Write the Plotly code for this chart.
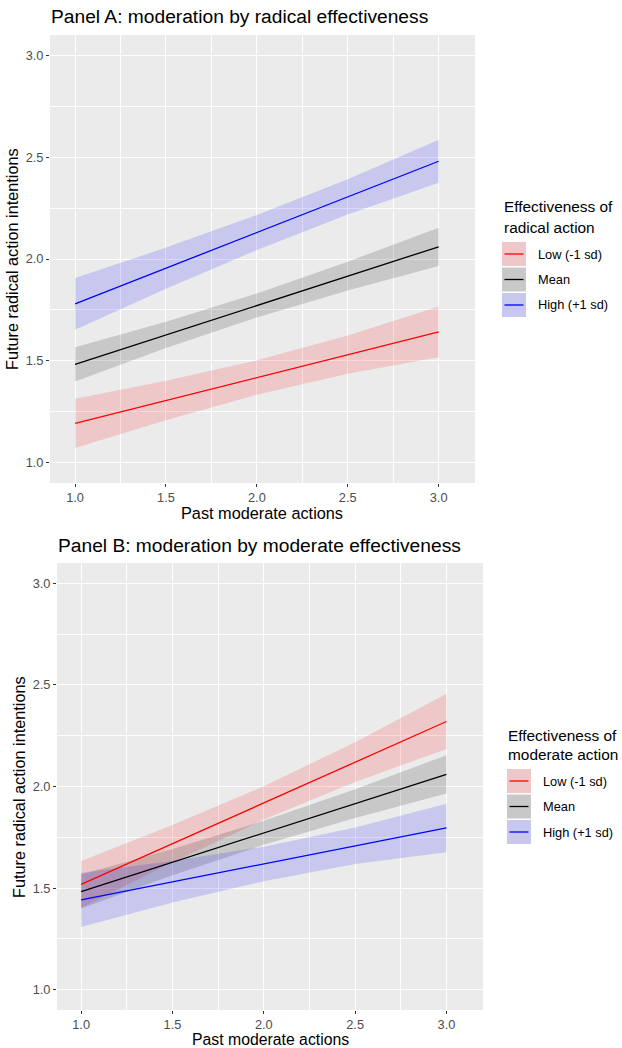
import plotly.graph_objects as go

# ---------------- data ----------------
x_vals = [1.0, 1.5, 2.0, 2.5, 3.0]
group_labels = ["Low (-1 sd)", "Mean", "High (+1 sd)"]

# Panel A: moderation by radical effectiveness
a_low_fit = [1.193, 1.305, 1.418, 1.530, 1.642]
a_low_lo = [1.072, 1.208, 1.333, 1.436, 1.517]
a_low_hi = [1.314, 1.402, 1.503, 1.624, 1.767]
a_mean_fit = [1.483, 1.627, 1.772, 1.916, 2.060]
a_mean_lo = [1.399, 1.563, 1.713, 1.845, 1.966]
a_mean_hi = [1.567, 1.692, 1.831, 1.987, 2.154]
a_high_fit = [1.780, 1.955, 2.130, 2.305, 2.480]
a_high_lo = [1.653, 1.854, 2.044, 2.218, 2.375]
a_high_hi = [1.907, 2.056, 2.216, 2.392, 2.585]

# Panel B: moderation by moderate effectiveness
b_low_fit = [1.518, 1.719, 1.919, 2.120, 2.320]
b_low_lo = [1.403, 1.627, 1.837, 2.022, 2.184]
b_low_hi = [1.633, 1.811, 2.001, 2.218, 2.456]
b_mean_fit = [1.483, 1.627, 1.772, 1.916, 2.060]
b_mean_lo = [1.399, 1.563, 1.713, 1.845, 1.966]
b_mean_hi = [1.567, 1.692, 1.831, 1.987, 2.154]
b_high_fit = [1.442, 1.531, 1.619, 1.708, 1.796]
b_high_lo = [1.309, 1.429, 1.534, 1.618, 1.677]
b_high_hi = [1.575, 1.633, 1.704, 1.798, 1.915]

x_ticks = [1.0, 1.5, 2.0, 2.5, 3.0]
y_ticks = [1.0, 1.5, 2.0, 2.5, 3.0]

# ---------------- styles ----------------
W, H = 622, 1048
FONT = "Liberation Sans, Arial, Helvetica, sans-serif"
line_colors = ["#FF0000", "#000000", "#0000FF"]
band_colors = ["rgba(255,0,0,0.15)", "rgba(0,0,0,0.15)", "rgba(0,0,255,0.15)"]
key_fill = ["#EEC8C8", "#C8C8C8", "#C8C8EE"]


def px(x):
    return x / W


def py(y):
    return 1 - y / H


fig = go.Figure()

panels = [
    ("x", "y", [(a_low_fit, a_low_lo, a_low_hi), (a_mean_fit, a_mean_lo, a_mean_hi),
                (a_high_fit, a_high_lo, a_high_hi)]),
    ("x2", "y2", [(b_low_fit, b_low_lo, b_low_hi), (b_mean_fit, b_mean_lo, b_mean_hi),
                  (b_high_fit, b_high_lo, b_high_hi)]),
]

for xa, ya, series in panels:
    for i, (fit, lo, hi) in enumerate(series):
        fig.add_trace(go.Scatter(x=x_vals + x_vals[::-1], y=hi + lo[::-1], fill="toself",
                                 fillcolor=band_colors[i], line=dict(width=0),
                                 mode="lines", hoverinfo="skip", showlegend=False,
                                 xaxis=xa, yaxis=ya))
    for i, (fit, lo, hi) in enumerate(series):
        fig.add_trace(go.Scatter(x=x_vals, y=fit, mode="lines",
                                 line=dict(color=line_colors[i], width=1.3),
                                 name=group_labels[i], showlegend=False,
                                 xaxis=xa, yaxis=ya))

axis_common = dict(
    showgrid=True, gridcolor="white", gridwidth=1.1, zeroline=False,
    ticks="outside", ticklen=3, tickcolor="#333333", tickwidth=1,
    tickfont=dict(family=FONT, size=12.8, color="#4D4D4D"),
    minor=dict(dtick=0.25, tick0=0.75, showgrid=True, gridcolor="white", gridwidth=0.5,
               ticks=""),
    showline=False, fixedrange=True, automargin=False,
)

xdomA = [px(50), px(475)]
ydomA = [py(483), py(35)]
xdomB = [px(57), px(483)]
ydomB = [py(1010), py(563)]

fig.update_layout(
    width=W, height=H,
    margin=dict(l=0, r=0, t=0, b=0),
    paper_bgcolor="white", plot_bgcolor="#EBEBEB",
    showlegend=False,
    xaxis=dict(domain=xdomA, range=[0.862, 3.2], anchor="y", tickvals=x_ticks,
               ticktext=[f"{v:.1f}" for v in x_ticks], **axis_common),
    yaxis=dict(domain=ydomA, range=[0.9, 3.1], anchor="x", tickvals=y_ticks,
               ticktext=[f"{v:.1f}" for v in y_ticks], **axis_common),
    xaxis2=dict(domain=xdomB, range=[0.868, 3.2], anchor="y2", tickvals=x_ticks,
                ticktext=[f"{v:.1f}" for v in x_ticks], **axis_common),
    yaxis2=dict(domain=ydomB, range=[0.9, 3.1], anchor="x2", tickvals=y_ticks,
                ticktext=[f"{v:.1f}" for v in y_ticks], **axis_common),
)

annotations = []
shapes = []


def text(t, x, y, size, anchor="left", angle=0, color="black"):
    annotations.append(dict(text=t, x=px(x), y=py(y), xref="paper", yref="paper",
                            xanchor=anchor, yanchor="middle", showarrow=False, textangle=angle,
                            font=dict(family=FONT, size=size, color=color)))


# panel titles
text("Panel A: moderation by radical effectiveness", 49, 17, 19.2)
text("Panel B: moderation by moderate effectiveness", 56, 545, 19.2)

# axis titles
text("Past moderate actions", 262, 513, 16.3, anchor="center")
text("Past moderate actions", 270, 1039.5, 15.8, anchor="center")
text("Future radical action intentions", 12, 259, 16.3, anchor="center", angle=-90)
text("Future radical action intentions", 19, 787, 16.3, anchor="center", angle=-90)

# manual legends (ggplot-like keys)
legends = [
    dict(title=["Effectiveness of", "radical action"], tx=502, ty=[207, 227],
         kx=502, ky=242, lx=536),
    dict(title=["Effectiveness of", "moderate action"], tx=506, ty=[735, 754],
         kx=507, ky=769, lx=541),
]
for lg in legends:
    for t, yy in zip(lg["title"], lg["ty"]):
        text(t, lg["tx"], yy, 15.4)
    for i, lab in enumerate(group_labels):
        y0 = lg["ky"] + i * 25.5
        y1 = y0 + 24
        shapes.append(dict(type="rect", xref="paper", yref="paper",
                           x0=px(lg["kx"]), x1=px(lg["kx"] + 24), y0=py(y1), y1=py(y0),
                           fillcolor=key_fill[i], line=dict(width=0)))
        ym = (y0 + y1) / 2
        shapes.append(dict(type="line", xref="paper", yref="paper",
                           x0=px(lg["kx"] + 2.5), x1=px(lg["kx"] + 21.5), y0=py(ym), y1=py(ym),
                           line=dict(color=line_colors[i], width=1.3)))
        text(lab, lg["lx"], ym, 12.8)

fig.update_layout(annotations=annotations, shapes=shapes)

fig.write_html("out.html", config={"displayModeBar": False},
               post_script="document.body.style.margin='0';document.body.style.overflow='hidden';")
